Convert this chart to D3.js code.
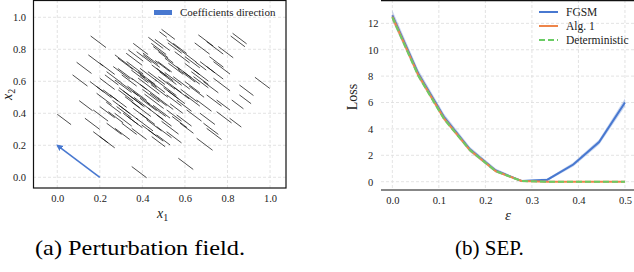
<!DOCTYPE html>
<html>
<head>
<meta charset="utf-8">
<script src="https://cdn.jsdelivr.net/npm/d3@7"></script>
<style>
body { margin: 0; background: #fff; }
svg { display: block; }
</style>
</head>
<body>
<script>
// perturbation field: start point and length of each segment (direction +x, -y)
var fieldX = [0.49, 0.48, 0.428, 0.663, 0.824, 0.815, 0.157, 0.459, 0.514,
  0.702, 0.757, 0.357, 0.334, 0.373, 0.451, 0.475, 0.545, 0.577, 0.146, 0.271, 0.404, 0.506, 0.60, 0.715, 0.671,
  0.091, 0.20, 0.326, 0.342, 0.389, 0.444, 0.467, 0.522, 0.561, 0.592, 0.64, 0.702, 0.734, 0.263, 0.232,
  0.072, 0.20, 0.224, 0.271, 0.303, 0.35, 0.389, 0.428, 0.475, 0.514, 0.545, 0.60, 0.64, 0.687, 0.734, 0.856, 0.929, 0.154, 0.185,
  0.103, 0.185, 0.216, 0.248, 0.287, 0.318, 0.357, 0.389, 0.436, 0.475, 0.514, 0.561, 0.60, 0.655, 0.702, 0.749, 0.82, 0.856,
  0.00, 0.13, 0.169, 0.20, 0.24, 0.279, 0.31, 0.357, 0.389, 0.428, 0.467, 0.514, 0.561, 0.608, 0.671, 0.749, 0.81,
  0.169, 0.232, 0.271, 0.303, 0.35, 0.397, 0.428, 0.467, 0.514, 0.577, 0.687, 0.702,
  0.20, 0.444, 0.467, 0.655, 0.569, 0.35,
  0.30, 0.33, 0.36, 0.40, 0.42, 0.44, 0.38, 0.48, 0.50, 0.26, 0.29, 0.42, 0.33, 0.46, 0.55, 0.53,
  0.646, 0.442, 0.52, 0.324, 0.403, 0.552, 0.285, 0.473, 0.599, 0.65,
  0.285, 0.348, 0.426, 0.505, 0.568, 0.63,
  0.29, 0.31, 0.38, 0.46, 0.41, 0.35, 0.45, 0.52, 0.58, 0.62, 0.27, 0.37, 0.49, 0.54, 0.23, 0.39];
var fieldY = [0.925, 0.91, 0.875, 0.89, 0.90, 0.883, 0.883, 0.862, 0.862,
  0.848, 0.817, 0.837, 0.796, 0.785, 0.817, 0.785, 0.837, 0.796, 0.765, 0.765, 0.765, 0.744, 0.754, 0.754, 0.723,
  0.719, 0.713, 0.723, 0.692, 0.681, 0.702, 0.681, 0.713, 0.692, 0.66, 0.671, 0.692, 0.723, 0.692, 0.66,
  0.64, 0.619, 0.64, 0.608, 0.64, 0.619, 0.64, 0.608, 0.629, 0.598, 0.629, 0.598, 0.629, 0.598, 0.619, 0.577, 0.625, 0.598, 0.567,
  0.479, 0.525, 0.546, 0.515, 0.546, 0.504, 0.535, 0.494, 0.525, 0.494, 0.515, 0.483, 0.515, 0.483, 0.515, 0.483, 0.483, 0.515,
  0.394, 0.369, 0.421, 0.442, 0.41, 0.442, 0.40, 0.431, 0.40, 0.431, 0.39, 0.421, 0.39, 0.421, 0.40, 0.41, 0.369,
  0.285, 0.338, 0.306, 0.338, 0.306, 0.327, 0.296, 0.317, 0.285, 0.338, 0.338, 0.306,
  0.254, 0.254, 0.265, 0.244, 0.119, 0.067,
  0.59, 0.57, 0.50, 0.55, 0.47, 0.58, 0.66, 0.66, 0.56, 0.48, 0.45, 0.36, 0.38, 0.73, 0.56, 0.46,
  0.84, 0.837, 0.84, 0.775, 0.776, 0.785, 0.745, 0.723, 0.712, 0.72,
  0.68, 0.67, 0.66, 0.655, 0.675, 0.66,
  0.56, 0.54, 0.62, 0.61, 0.52, 0.47, 0.45, 0.54, 0.55, 0.57, 0.40, 0.37, 0.35, 0.38, 0.47, 0.58];
var fieldLen = [0.063, 0.035, 0.07, 0.07, 0.066, 0.067, 0.072, 0.07, 0.063,
  0.078, 0.07, 0.07, 0.07, 0.07, 0.07, 0.07, 0.063, 0.078, 0.07, 0.07, 0.078, 0.07, 0.07, 0.066, 0.07,
  0.07, 0.07, 0.078, 0.07, 0.078, 0.07, 0.078, 0.07, 0.07, 0.078, 0.07, 0.078, 0.078, 0.078, 0.07,
  0.07, 0.07, 0.063, 0.078, 0.07, 0.07, 0.078, 0.078, 0.078, 0.07, 0.078, 0.07, 0.07, 0.07, 0.078, 0.066, 0.07, 0.063, 0.07,
  0.063, 0.07, 0.07, 0.078, 0.07, 0.07, 0.078, 0.078, 0.078, 0.07, 0.07, 0.07, 0.07, 0.07, 0.07, 0.063, 0.055, 0.055,
  0.065, 0.07, 0.07, 0.07, 0.07, 0.07, 0.07, 0.07, 0.07, 0.07, 0.07, 0.07, 0.07, 0.07, 0.07, 0.07, 0.055,
  0.07, 0.07, 0.07, 0.07, 0.07, 0.07, 0.07, 0.07, 0.07, 0.063, 0.07, 0.07,
  0.07, 0.063, 0.063, 0.075, 0.07, 0.07,
  0.08, 0.09, 0.08, 0.08, 0.09, 0.08, 0.08, 0.08, 0.07, 0.08, 0.09, 0.07, 0.07, 0.07, 0.07, 0.06,
  0.07, 0.07, 0.065, 0.075, 0.07, 0.07, 0.07, 0.065, 0.07, 0.05,
  0.07, 0.08, 0.08, 0.08, 0.08, 0.08,
  0.11, 0.10, 0.10, 0.10, 0.09, 0.09, 0.08, 0.08, 0.08, 0.07, 0.08, 0.08, 0.08, 0.07, 0.07, 0.09];
var coefX = [0.2, 0.0];
var coefY = [0.0, 0.2];
var fieldTicks = [0.0, 0.2, 0.4, 0.6, 0.8, 1.0];

// SEP loss curves
var eps = [0, 0.0556, 0.1111, 0.1667, 0.2222, 0.2778, 0.3333, 0.3889, 0.4444, 0.5];
var fgsm = [12.6, 8.2, 4.9, 2.45, 0.85, 0.05, 0.15, 1.3, 3.0, 6.0];
var fgsmStd = [0.4, 0.3, 0.25, 0.2, 0.15, 0.05, 0.1, 0.15, 0.2, 0.3];
var alg1 = [12.5, 8.1, 4.8, 2.4, 0.8, 0.05, 0, 0, 0, 0];
var alg1Std = [0.3, 0.25, 0.2, 0.15, 0.1, 0.03, 0.02, 0.02, 0.02, 0.02];
var deterministic = [12.45, 8.05, 4.75, 2.4, 0.8, 0.05, 0, 0, 0, 0];
var epsTicks = [0.0, 0.1, 0.2, 0.3, 0.4, 0.5];
var lossTicks = [0, 2, 4, 6, 8, 10, 12];

var blue = "#4878d0", orange = "#ee854a", green = "#6acc64";
var serif = "'Liberation Serif', 'DejaVu Serif', serif";

var svg = d3.select("body").append("svg")
  .attr("width", 634).attr("height", 272)
  .style("font-family", serif);

svg.append("defs").append("marker")
  .attr("id", "head")
  .attr("viewBox", "0 0 10 10")
  .attr("refX", 8).attr("refY", 5)
  .attr("markerWidth", 4).attr("markerHeight", 4)
  .attr("orient", "auto")
  .append("path").attr("d", "M0,0L10,5L0,10z").attr("fill", blue);

function grid(g, xs, ys, xt, yt, x0, x1, y0, y1) {
  g.selectAll(".gx").data(xt).enter().append("line")
    .attr("x1", function(d) { return xs(d); }).attr("x2", function(d) { return xs(d); })
    .attr("y1", y0).attr("y2", y1);
  g.selectAll(".gy").data(yt).enter().append("line")
    .attr("x1", x0).attr("x2", x1)
    .attr("y1", function(d) { return ys(d); }).attr("y2", function(d) { return ys(d); });
  g.selectAll("line").attr("stroke", "#dcdcdc").attr("stroke-width", 0.8).attr("stroke-dasharray", "3,2");
}

function styleAxis(g) {
  g.select(".domain").remove();
  g.attr("font-family", null).attr("font-size", null);
  g.selectAll("text").style("font-family", serif).style("font-size", "10.5px").attr("fill", "#222");
}

function label(x, y, size, str) {
  return svg.append("text").attr("x", x).attr("y", y)
    .style("font-family", serif).style("font-size", size + "px").attr("fill", "#222").text(str);
}

// ---------- (a) perturbation field ----------
var ax = d3.scaleLinear().domain([-0.114, 1.075]).range([33, 286]);
var ay = d3.scaleLinear().domain([-0.067, 1.108]).range([188, 0]);

grid(svg.append("g"), ax, ay, fieldTicks, fieldTicks, 33, 286, 0, 188);

svg.append("g").selectAll("line").data(fieldX).enter().append("line")
  .attr("x1", function(d) { return ax(d); })
  .attr("y1", function(d, i) { return ay(fieldY[i]); })
  .attr("x2", function(d, i) { return ax(d + fieldLen[i]); })
  .attr("y2", function(d, i) { return ay(fieldY[i] - fieldLen[i]); })
  .attr("stroke", "#000").attr("stroke-width", 0.7);

svg.append("line")
  .attr("x1", ax(coefX[0])).attr("y1", ay(coefY[0]))
  .attr("x2", ax(coefX[1])).attr("y2", ay(coefY[1]))
  .attr("stroke", blue).attr("stroke-width", 1.6)
  .attr("marker-end", "url(#head)");

styleAxis(svg.append("g").attr("transform", "translate(0,188)")
  .call(d3.axisBottom(ax).tickValues(fieldTicks).tickSize(0).tickPadding(7).tickFormat(d3.format(".1f"))));
styleAxis(svg.append("g").attr("transform", "translate(33,0)")
  .call(d3.axisLeft(ay).tickValues(fieldTicks).tickSize(0).tickPadding(7).tickFormat(d3.format(".1f"))));

svg.append("rect").attr("x", 33.5).attr("y", 0.5).attr("width", 252.5).attr("height", 187.5)
  .attr("fill", "none").attr("stroke", "#111").attr("stroke-width", 1.2);

svg.append("rect").attr("x", 154).attr("y", 10).attr("width", 18).attr("height", 5).attr("fill", blue);
label(180, 16, 11, "Coefficients direction");

var xl = label(157, 218, 14, "").style("font-style", "italic");
xl.append("tspan").text("x");
xl.append("tspan").attr("dy", 3).style("font-size", "10px").style("font-style", "normal").text("1");
var yl = label(0, 0, 14, "").attr("transform", "translate(12,100) rotate(-90)").style("font-style", "italic");
yl.append("tspan").text("x");
yl.append("tspan").attr("dy", 3).style("font-size", "10px").style("font-style", "normal").text("2");

// ---------- (b) SEP ----------
var bx = d3.scaleLinear().domain([-0.025, 0.525]).range([380.7, 636.6]);
var by = d3.scaleLinear().domain([-0.63, 13.77]).range([190, 0]);

grid(svg.append("g"), bx, by, epsTicks, lossTicks, 381, 634, 0, 190);

var band = function(vals, sd) {
  return d3.area().x(function(d, i) { return bx(eps[i]); })
    .y0(function(d, i) { return by(vals[i] - sd[i]); })
    .y1(function(d, i) { return by(vals[i] + sd[i]); })(eps);
};
var line = function(vals) {
  return d3.line().x(function(d, i) { return bx(eps[i]); })
    .y(function(d, i) { return by(vals[i]); })(eps);
};

svg.append("path").attr("d", band(fgsm, fgsmStd)).attr("fill", blue).attr("opacity", 0.3);
svg.append("path").attr("d", band(alg1, alg1Std)).attr("fill", orange).attr("opacity", 0.3);
svg.append("path").attr("d", line(fgsm)).attr("fill", "none").attr("stroke", blue).attr("stroke-width", 2);
svg.append("path").attr("d", line(alg1)).attr("fill", "none").attr("stroke", orange).attr("stroke-width", 2);
svg.append("path").attr("d", line(deterministic)).attr("fill", "none").attr("stroke", green)
  .attr("stroke-width", 2).attr("stroke-dasharray", "6,3");

styleAxis(svg.append("g").attr("transform", "translate(0,190)")
  .call(d3.axisBottom(bx).tickValues(epsTicks).tickSize(0).tickPadding(7).tickFormat(d3.format(".1f"))));
var ly = svg.append("g").attr("transform", "translate(381,0)")
  .call(d3.axisLeft(by).tickValues(lossTicks).tickSize(0).tickPadding(7));
styleAxis(ly);
ly.selectAll("text").attr("text-anchor", "start").attr("x", -13);

svg.append("line").attr("x1", 381).attr("x2", 634).attr("y1", 0.6).attr("y2", 0.6).attr("stroke", "#111").attr("stroke-width", 1.2);
svg.append("line").attr("x1", 381).attr("x2", 634).attr("y1", 190).attr("y2", 190).attr("stroke", "#111").attr("stroke-width", 1.2);

var legend = [["FGSM", blue, null], ["Alg. 1", orange, null], ["Deterministic", green, "6,3"]];
legend.forEach(function(d, i) {
  var yy = 12 + i * 14;
  svg.append("line").attr("x1", 539).attr("x2", 558).attr("y1", yy).attr("y2", yy)
    .attr("stroke", d[1]).attr("stroke-width", 2).attr("stroke-dasharray", d[2]);
  label(566, yy + 4, 11.5, d[0]);
});

label(0, 0, 14, "Loss").attr("transform", "translate(357,97) rotate(-90)").attr("text-anchor", "middle");
label(508, 220, 15, "ε").attr("text-anchor", "middle").style("font-style", "italic");

// captions
label(35, 255, 21, "(a) Perturbation field.").attr("fill", "#000")
  .attr("textLength", 210).attr("lengthAdjust", "spacingAndGlyphs");
label(455, 255, 21, "(b) SEP.").attr("fill", "#000");
</script>
</body>
</html>
